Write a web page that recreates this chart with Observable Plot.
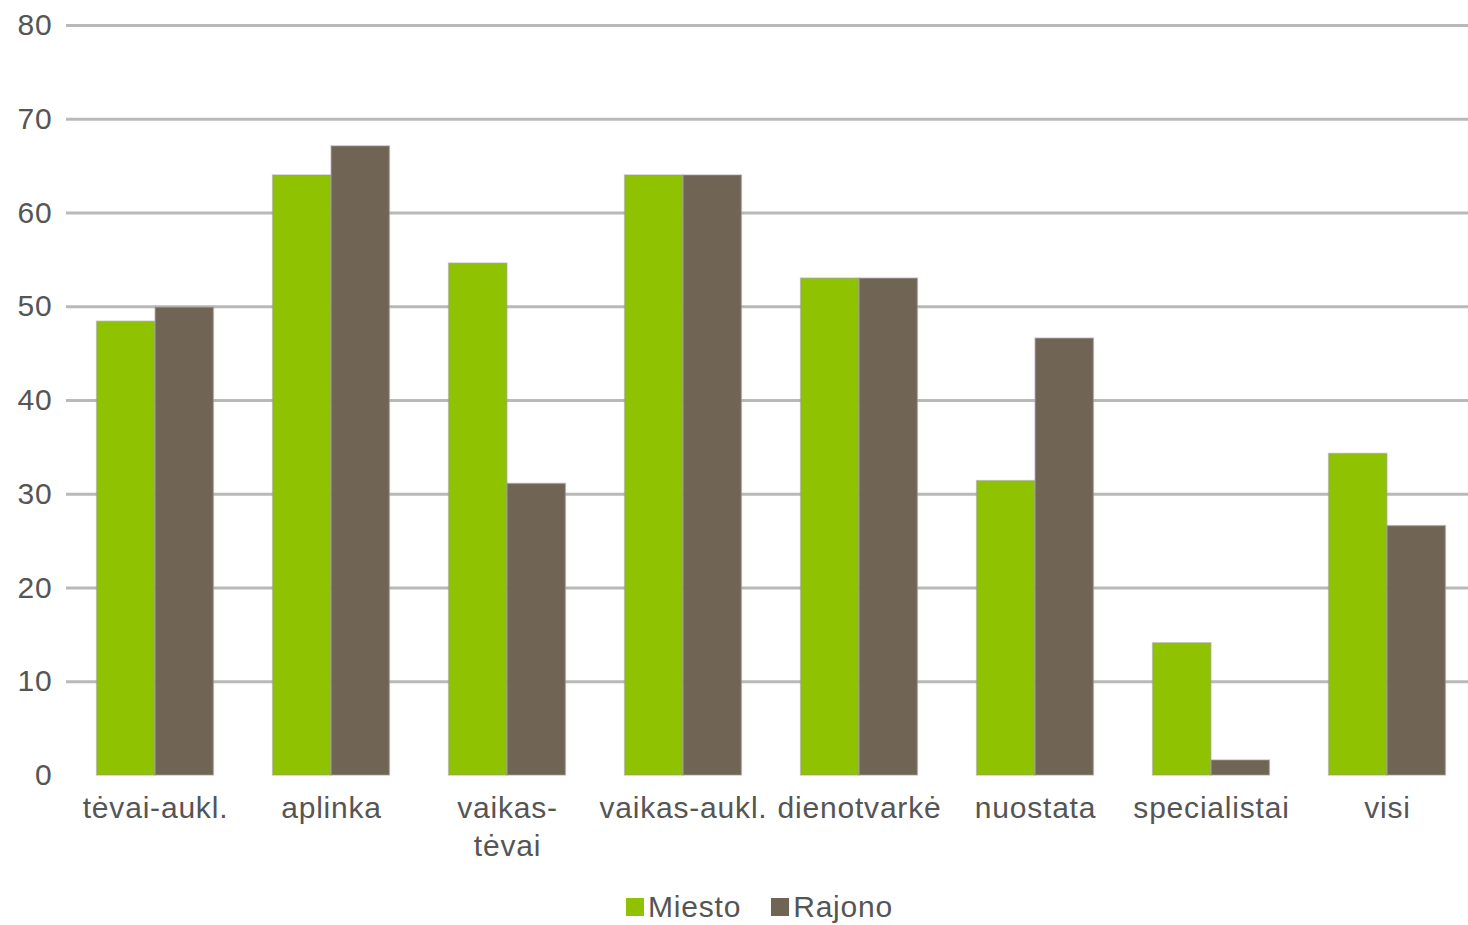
<!DOCTYPE html>
<html>
<head>
<meta charset="utf-8">
<script src="https://cdn.jsdelivr.net/npm/d3@7"></script>
<script src="https://cdn.jsdelivr.net/npm/@observablehq/plot@0.6"></script>
<style>
  html, body { margin: 0; padding: 0; background: #fff; overflow: hidden; }
  #wrap { position: relative; width: 1476px; height: 925px; font-family: "Liberation Sans", Arial, sans-serif; }
  #chart svg text { letter-spacing: 0.8px; }
  #legend { position: absolute; left: 626px; top: 890px; display: flex; align-items: center; font-size: 30px; letter-spacing: 0.8px; color: #555; }
  .key { display: flex; align-items: center; margin-right: 30px; }
  .sw { width: 18px; height: 18px; margin-right: 4px; }
</style>
</head>
<body>
<div id="wrap"><div id="chart"></div><div id="legend"></div></div>
<script>
const categories = ["tėvai-aukl.", "aplinka", "vaikas-tėvai", "vaikas-aukl.", "dienotvarkė", "nuostata", "specialistai", "visi"];
const categoryLabels = ["tėvai-aukl.", "aplinka", "vaikas-\ntėvai", "vaikas-aukl.", "dienotvarkė", "nuostata", "specialistai", "visi"];
const seriesNames = ["Miesto", "Rajono"];
const miesto = [48.4, 64, 54.6, 64, 53, 31.4, 14.1, 34.3];
const rajono = [49.9, 67.1, 31.1, 64, 53, 46.6, 1.6, 26.6];
const yTicks = [0, 10, 20, 30, 40, 50, 60, 70, 80];
const colors = ["#8fc200", "#706554"];

const rows = categories.flatMap((c, i) => [
  {category: c, series: seriesNames[0], value: miesto[i]},
  {category: c, series: seriesNames[1], value: rajono[i]}
]);

const width = 1476, marginLeft = 66, marginRight = 0;
const bw = (width - marginLeft - marginRight) / categories.length;
const gap = bw * 0.168;           // space on each side of a group
const barW = (bw - 2 * gap) / 2;  // each bar

const labelOf = new Map(categories.map((c, i) => [c, categoryLabels[i]]));
const barStyle = {stroke: "#9a9a9a", strokeOpacity: 0.5, strokeWidth: 1.5};

const chart = Plot.plot({
  width,
  height: 880,
  marginLeft,
  marginRight,
  marginTop: 25,
  marginBottom: 105,
  style: {fontFamily: "Liberation Sans, Arial, sans-serif", fontSize: "30px", color: "#555", background: "#fff"},
  x: {domain: categories, padding: 0},
  y: {domain: [0, 80]},
  color: {domain: seriesNames, range: colors},
  marks: [
    Plot.ruleY(yTicks.filter(d => d > 0), {stroke: "#b9b9b9", strokeWidth: 3, strokeOpacity: 1}),
    Plot.barY(rows.filter(d => d.series === seriesNames[0]), {x: "category", y: "value", fill: "series", insetLeft: gap, insetRight: gap + barW, ...barStyle}),
    Plot.barY(rows.filter(d => d.series === seriesNames[1]), {x: "category", y: "value", fill: "series", insetLeft: gap + barW, insetRight: gap, ...barStyle}),
    Plot.axisY({ticks: yTicks, tickSize: 0, tickPadding: 14, label: null, fontSize: 30, textAnchor: "end"}),
    Plot.axisX({tickSize: 0, tickPadding: 15, label: null, tickFormat: d => labelOf.get(d), fontSize: 30, lineHeight: 1.27})
  ]
});
document.getElementById("chart").appendChild(chart);

const legend = document.getElementById("legend");
seriesNames.forEach((s, i) => {
  const k = document.createElement("div");
  k.className = "key";
  const sw = document.createElement("div");
  sw.className = "sw";
  sw.style.background = colors[i];
  const t = document.createElement("span");
  t.textContent = s;
  k.appendChild(sw); k.appendChild(t);
  legend.appendChild(k);
});
</script>
</body>
</html>
